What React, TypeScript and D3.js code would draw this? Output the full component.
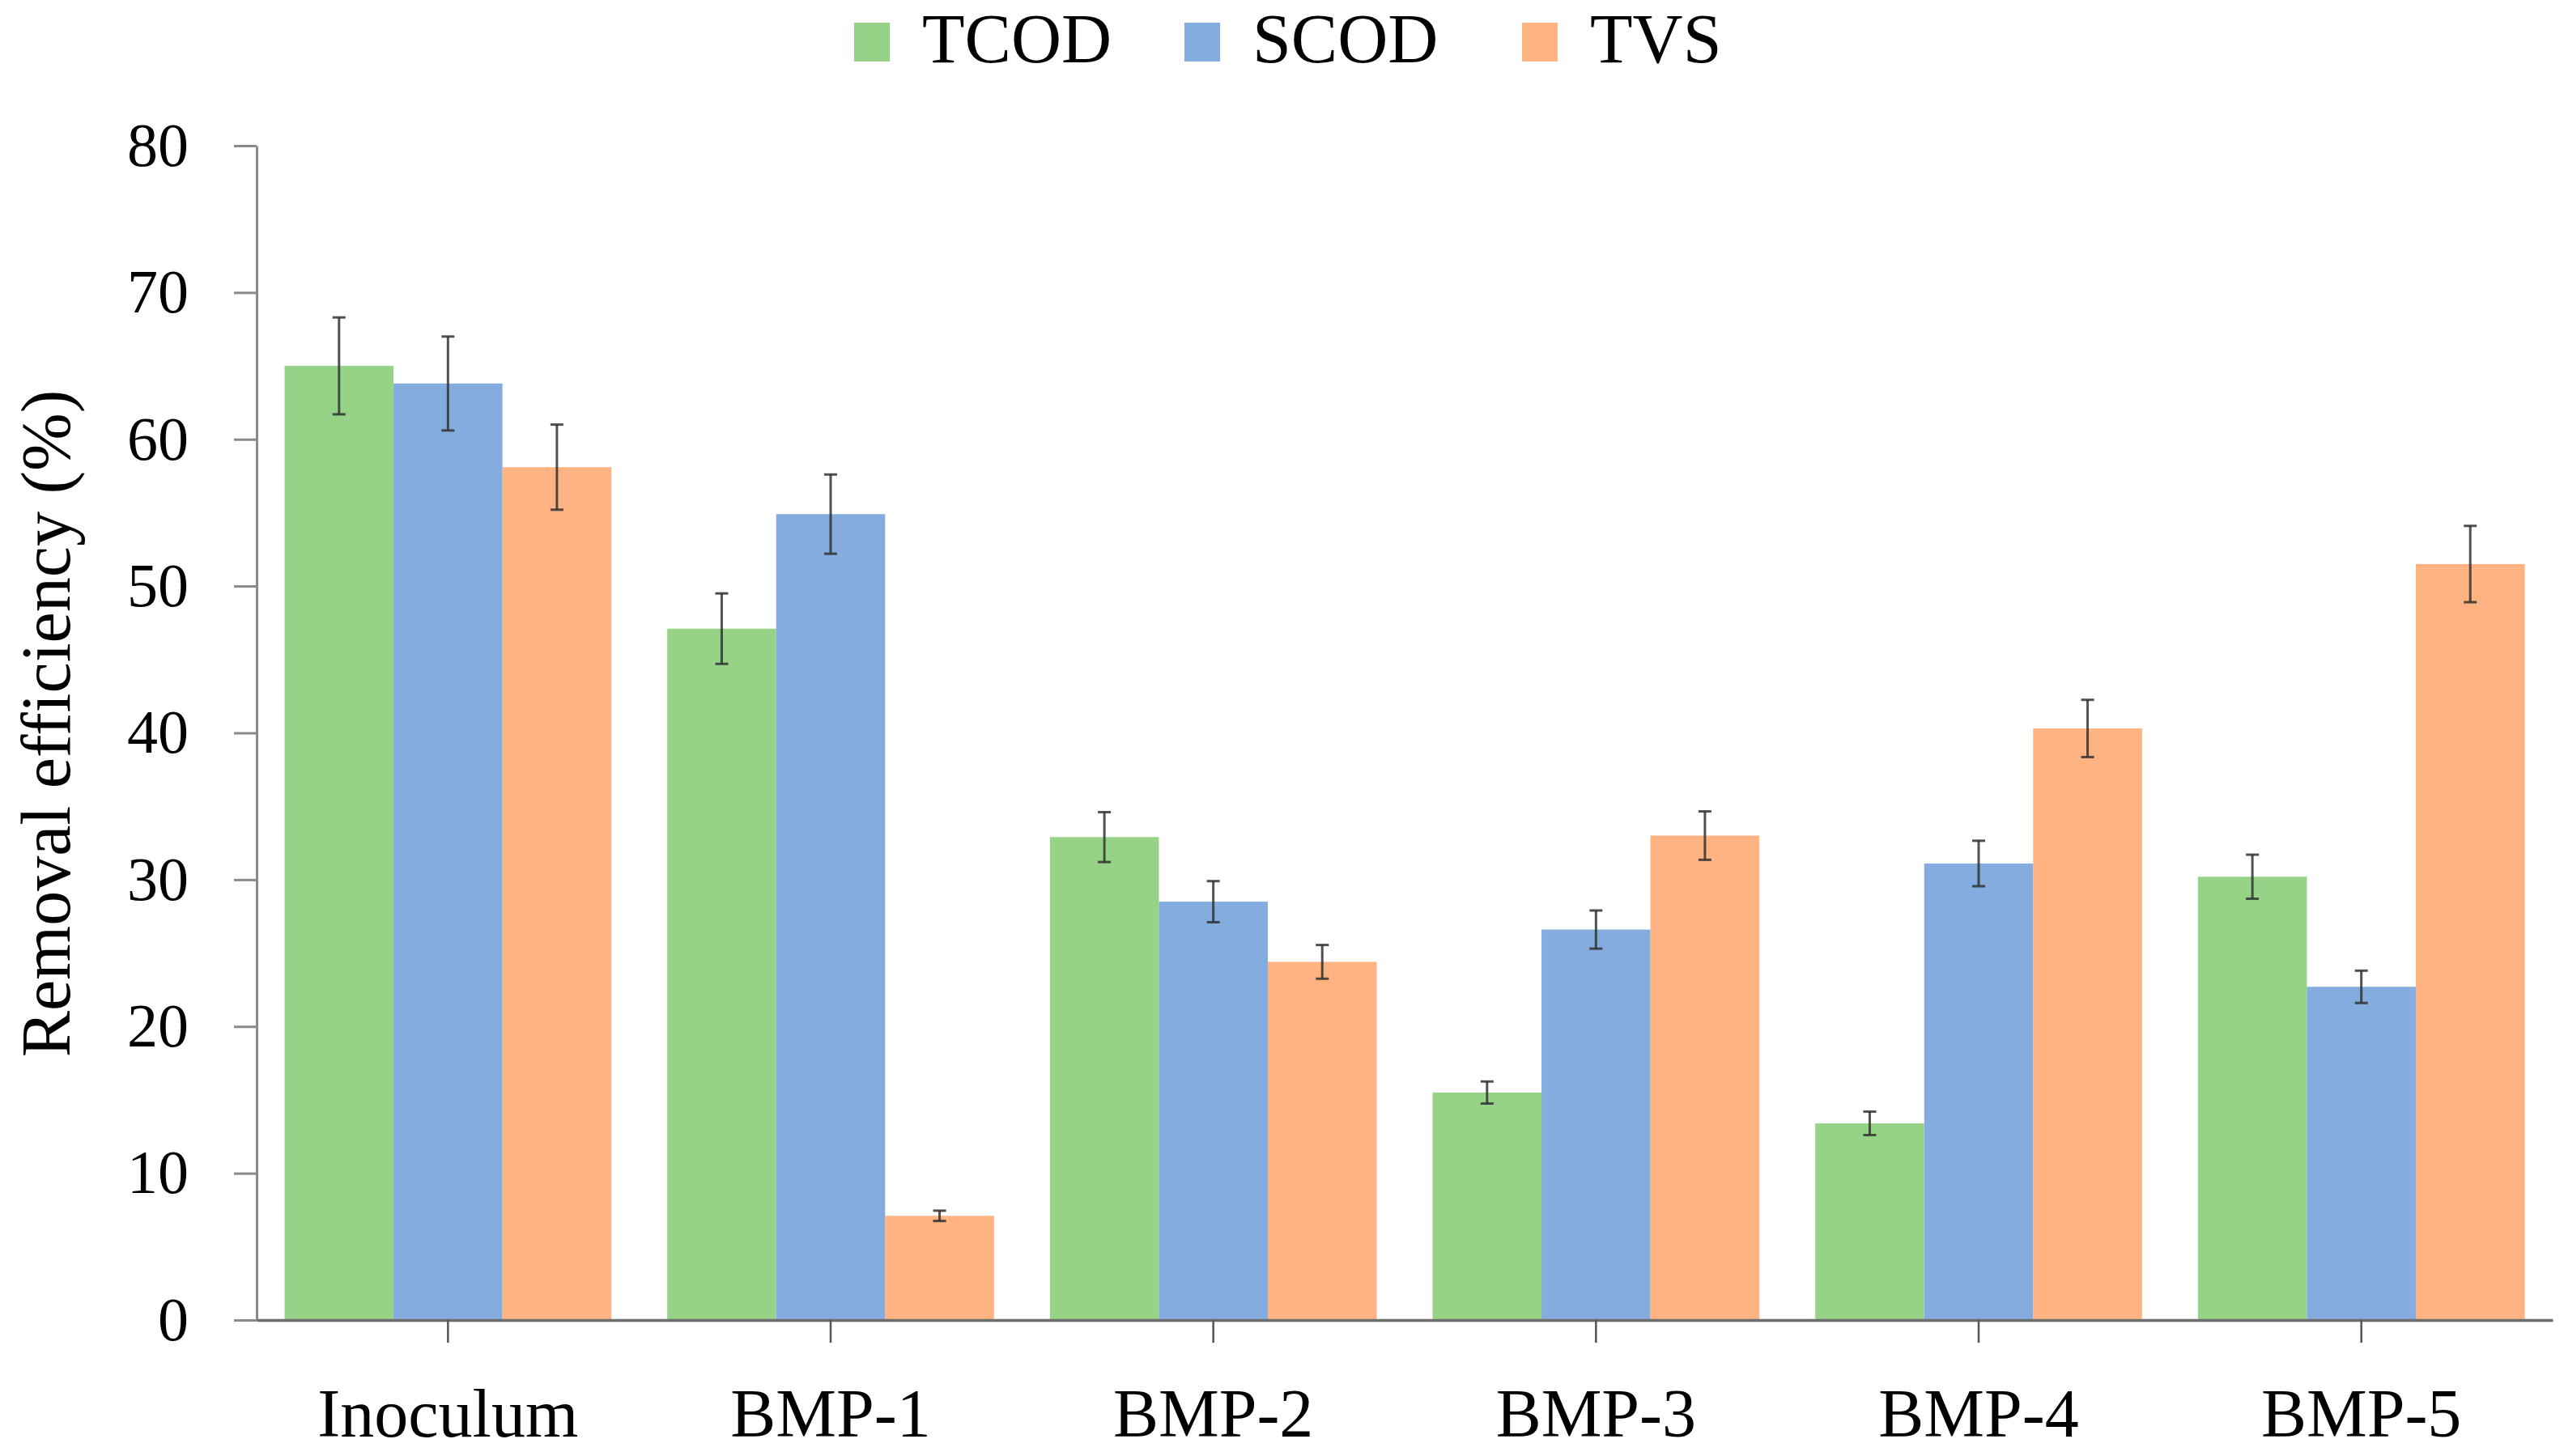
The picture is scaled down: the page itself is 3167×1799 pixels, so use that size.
import React, { useEffect, useRef } from 'react';
import * as d3 from 'd3';

const categories = ['Inoculum', 'BMP-1', 'BMP-2', 'BMP-3', 'BMP-4', 'BMP-5'];
const seriesNames = ['TCOD', 'SCOD', 'TVS'];
const tcod = [65.0, 47.1, 32.9, 15.5, 13.4, 30.2];
const tcodErr = [3.3, 2.4, 1.7, 0.75, 0.8, 1.5];
const scod = [63.8, 54.9, 28.5, 26.6, 31.1, 22.7];
const scodErr = [3.2, 2.7, 1.4, 1.3, 1.55, 1.1];
const tvs = [58.1, 7.1, 24.4, 33.0, 40.3, 51.5];
const tvsErr = [2.9, 0.35, 1.15, 1.65, 1.95, 2.6];
const yTicks = [0, 10, 20, 30, 40, 50, 60, 70, 80];
const colors = ['#96D387', '#84ACDF', '#FFB282'];

const FONT = '"Palatino Linotype", "Book Antiqua", Palatino, "Liberation Serif", serif';

export default function App() {
  const svgRef = useRef<SVGSVGElement>(null);

  useEffect(() => {
    if (!svgRef.current) return;
    const width = 3167;
    const height = 1799;
    const left = 317;
    const right = 3153;
    const top = 180;
    const bottom = 1631;

    const svg = d3.select(svgRef.current);
    svg.selectAll('*').remove();
    svg.attr('width', width).attr('height', height);

    svg.append('rect').attr('width', width).attr('height', height).attr('fill', '#fff');

    const x = d3.scaleBand<string>().domain(categories).range([left, right]).paddingInner(0.146).paddingOuter(0.073);
    const xs = d3.scaleBand<string>().domain(seriesNames).range([0, x.bandwidth()]);
    const y = d3.scaleLinear().domain([0, 80]).range([bottom, top]);

    const values = [tcod, scod, tvs];
    const errs = [tcodErr, scodErr, tvsErr];

    const rows = categories.flatMap((c, i) =>
      seriesNames.map((s, k) => ({ c, s, k, v: values[k][i], e: errs[k][i] }))
    );

    // bars
    svg.append('g')
      .selectAll('rect')
      .data(rows)
      .enter()
      .append('rect')
      .attr('x', d => (x(d.c) as number) + (xs(d.s) as number))
      .attr('y', d => y(d.v))
      .attr('width', xs.bandwidth())
      .attr('height', d => y(0) - y(d.v))
      .attr('fill', d => colors[d.k]);

    // y axis
    const yAxis = svg.append('g')
      .attr('transform', `translate(${left},0)`)
      .call(d3.axisLeft(y).tickValues(yTicks).tickSize(28).tickSizeOuter(0).tickPadding(56));
    yAxis.selectAll('path, line').attr('stroke', '#8a8a8a').attr('stroke-width', 3);
    yAxis.selectAll('text')
      .attr('font-family', FONT)
      .attr('font-size', 76)
      .attr('fill', '#000');

    // x axis
    const xAxis = svg.append('g')
      .attr('transform', `translate(0,${bottom})`)
      .call(d3.axisBottom(x).tickSize(28).tickSizeOuter(0).tickPadding(56));
    xAxis.selectAll('path').attr('stroke', '#6e6e6e').attr('stroke-width', 3.5);
    xAxis.selectAll('line').attr('stroke', '#555').attr('stroke-width', 2.5);
    xAxis.selectAll('text')
      .attr('font-family', FONT)
      .attr('font-size', 84)
      .attr('fill', '#000');

    // error bars
    const cap = 8;
    const eg = svg.append('g').attr('stroke', '#333').attr('stroke-width', 3).attr('stroke-opacity', 0.85);
    rows.forEach(d => {
      const cx = (x(d.c) as number) + (xs(d.s) as number) + xs.bandwidth() / 2;
      eg.append('line').attr('x1', cx).attr('x2', cx).attr('y1', y(d.v + d.e)).attr('y2', y(d.v - d.e));
      eg.append('line').attr('x1', cx - cap).attr('x2', cx + cap).attr('y1', y(d.v + d.e)).attr('y2', y(d.v + d.e));
      eg.append('line').attr('x1', cx - cap).attr('x2', cx + cap).attr('y1', y(d.v - d.e)).attr('y2', y(d.v - d.e));
    });

    // y title
    svg.append('text')
      .attr('transform', `translate(86,894) rotate(-90)`)
      .attr('text-anchor', 'middle')
      .attr('font-family', FONT)
      .attr('font-size', 86)
      .attr('fill', '#000')
      .text('Removal efficiency (%)');

    // legend
    const legendX = [1055, 1463, 1880];
    const lg = svg.append('g');
    seriesNames.forEach((s, k) => {
      lg.append('rect').attr('x', legendX[k]).attr('y', 28).attr('width', 44).attr('height', 48).attr('fill', colors[k]);
      lg.append('text')
        .attr('x', legendX[k] + 84)
        .attr('y', 77)
        .attr('font-family', FONT)
        .attr('font-size', 86)
        .attr('fill', '#000')
        .text(s);
    });
  }, []);

  return <svg ref={svgRef} style={{ position: 'absolute', left: 0, top: 0 }}></svg>;
}
